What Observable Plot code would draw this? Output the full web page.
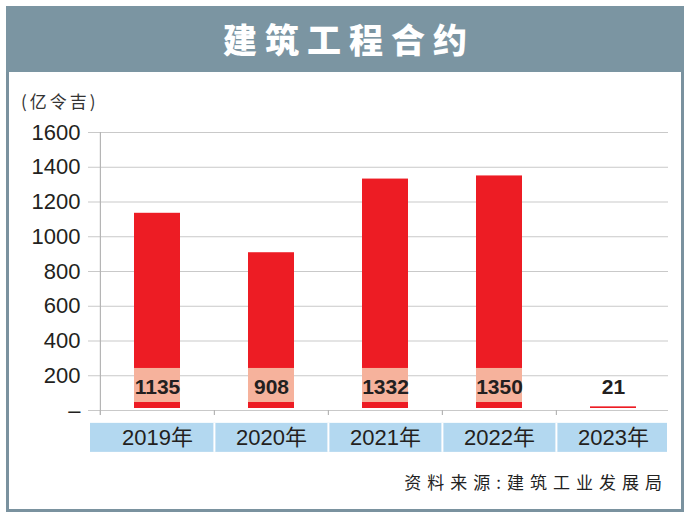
<!DOCTYPE html>
<html>
<head>
<meta charset="utf-8">
<script src="https://cdn.jsdelivr.net/npm/d3@7"></script>
<script src="https://cdn.jsdelivr.net/npm/@observablehq/plot@0.6"></script>
<style>
  html, body { margin: 0; padding: 0; background: #fff; }
  #wrap { position: relative; width: 690px; height: 518px; overflow: hidden; background: #fff; }
  #frame { position: absolute; left: 6px; top: 6px; width: 678px; height: 506px; box-sizing: border-box; border: 3px solid #7a929f; }
  #header { position: absolute; left: 6px; top: 6px; width: 678px; height: 66px; background: #7b95a2; }
  #title { position: absolute; left: 6px; top: 6px; width: 678px; height: 66px; line-height: 66px; text-align: center;
           color: #fff; font-family: "Noto Sans CJK SC", sans-serif; font-weight: 900; font-size: 34px; letter-spacing: 8px; text-indent: 8px; z-index: 3; }
  #unit { position: absolute; left: 21px; top: 88px; font-family: "Noto Sans CJK SC", sans-serif; font-size: 17px; letter-spacing: 3px; color: #333; z-index: 3; }
  #source { position: absolute; right: 22px; top: 469px; font-family: "Noto Sans CJK SC", sans-serif; font-size: 17px; letter-spacing: 6px; color: #222; z-index: 3; }
  #chart { position: absolute; left: 0; top: 0; z-index: 2; }
</style>
</head>
<body>
<div id="wrap">
  <div id="frame"></div>
  <div id="header"></div>
  <div id="title">建筑工程合约</div>
  <div id="unit">(亿令吉)</div>
  <div id="chart"></div>
  <div id="source">资料来源:建筑工业发展局</div>
</div>
<script>
// ---- data ----
const years = ["2019年", "2020年", "2021年", "2022年", "2023年"];
const values = [1135, 908, 1332, 1350, 21];
const yTicks = [0, 200, 400, 600, 800, 1000, 1200, 1400, 1600];
const yTickLabels = ["–", "200", "400", "600", "800", "1000", "1200", "1400", "1600"];

const data = years.map((year, i) => ({year, value: values[i]}));

const W = 690, H = 518;
const xRange = [99, 670];
const step = (xRange[1] - xRange[0]) / years.length;

const red = "#ed1c24", salmon = "#f6b29c", blue = "#b3d8f0", grid = "#c9c9c9", axisGray = "#b5b5b5", ink = "#231f20";
const font = "'Liberation Sans', Arial, Helvetica, 'Noto Sans CJK SC', sans-serif";

const plot = Plot.plot({
  width: W,
  height: H,
  marginTop: 132,
  marginBottom: 108,
  marginLeft: 88,
  marginRight: 22,
  style: {background: "transparent", overflow: "visible", fontFamily: font},
  x: {domain: years, range: xRange, paddingInner: 0.6, paddingOuter: 0.3, axis: null},
  y: {domain: [0, 1600], axis: null},
  marks: [
    // gridlines
    Plot.ruleY(yTicks, {y: d => d, stroke: grid, strokeWidth: 1.2}),
    // y tick labels
    Plot.text(yTicks, {y: d => d, text: (d, i) => yTickLabels[i], frameAnchor: "left", textAnchor: "end", dx: -8,
      fontSize: 22, fill: ink}),
    // vertical axis line
    Plot.ruleX([years[0]], {x: d => d, y1: -29, y2: 1600, dx: -step / 2, stroke: axisGray, strokeWidth: 1.2}),
    // axis tick marks at category boundaries
    Plot.ruleX(years, {x: d => d, y1: 0, y2: -29, dx: -step / 2, stroke: axisGray, strokeWidth: 1.2}),
    // bars
    Plot.barY(data, {x: "year", y: "value", fill: red, insetBottom: 2}),
    // label backgrounds
    Plot.barY(data.filter(d => d.value > 242), {x: "year", y1: 46, y2: 242, fill: salmon}),
    // value labels
    Plot.text(data, {x: "year", y: 134, text: d => String(d.value), fontSize: 21, fontWeight: "bold", fill: ink}),
    // category band
    Plot.rect([0], {y1: -74, y2: -241, fill: blue, insetLeft: 2, insetRight: 1}),
    Plot.ruleX(years.slice(1), {x: d => d, y1: -74, y2: -241, dx: -step / 2, stroke: "#fff", strokeWidth: 2}),
    Plot.text(years, {x: d => d, y: -158, text: d => d, fontSize: 22, fill: ink})
  ]
});

document.getElementById("chart").appendChild(plot);
</script>
</body>
</html>
